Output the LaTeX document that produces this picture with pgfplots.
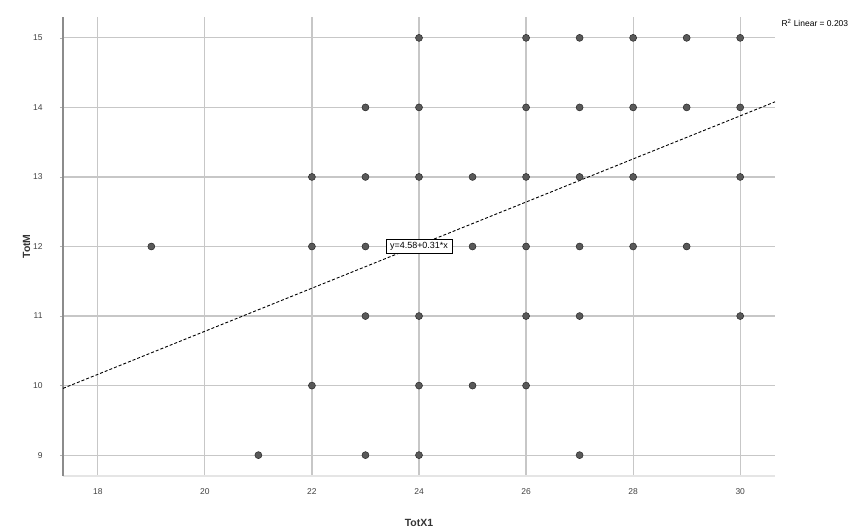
\documentclass[border=0pt]{standalone}
\usepackage{fontspec}
\setmainfont{Liberation Sans}
\setsansfont{Liberation Sans}
\usepackage{pgfplots}
\pgfplotsset{compat=1.18}
\begin{document}
\begin{tikzpicture}
\begin{axis}[
  scale only axis,
  width=712bp, height=459bp,
  xmin=17.35, xmax=30.65, ymin=8.7, ymax=15.3,
  xtick={18,20,...,30}, ytick={9,...,15},
  /pgf/number format/assume math mode=true,
  ticklabel style={font=\fontsize{8.5}{10}\selectfont, text=black!75},
  yticklabel style={xshift=-14bp},
  xticklabel style={yshift=-6bp},
  xlabel={\textbf{TotX1}}, ylabel={\textbf{TotM}},
  label style={font=\fontsize{10.5}{12}\selectfont, text=black!80},
  xlabel style={yshift=-18bp},
  ylabel style={yshift=-4bp},
  grid=major,
  major grid style={draw=black!22, line width=1.2bp},
  axis x line*=bottom, axis y line*=left,
  x axis line style={draw=black!10, line width=1.5bp, -},
  y axis line style={draw=black!45, line width=1.2bp, -},
  xtick style={draw=none},
  ytick style={draw=black!30},
  tick align=outside, major tick length=3bp,
  clip=false,
]
\addplot[only marks, mark=*, mark size=3.5bp,
  mark options={fill=black!65, draw=black!85, line width=0.5bp}]
coordinates {
 (24,15) (26,15) (27,15) (28,15) (29,15) (30,15)
 (23,14) (24,14) (26,14) (27,14) (28,14) (29,14) (30,14)
 (22,13) (23,13) (24,13) (25,13) (26,13) (27,13) (28,13) (30,13)
 (19,12) (22,12) (23,12) (24,12) (25,12) (26,12) (27,12) (28,12) (29,12)
 (23,11) (24,11) (26,11) (27,11) (30,11)
 (22,10) (24,10) (25,10) (26,10)
 (21,9) (23,9) (24,9) (27,9)
};
\addplot[black, line width=0.9bp, dash pattern=on 3bp off 2bp]
coordinates { (17.35,9.96) (30.65,14.08) };
\node[anchor=west, font=\fontsize{8.5}{10}\selectfont, overlay] at ([xshift=3bp,yshift=-6bp]rel axis cs:1,1) {R\textsuperscript{2} Linear = 0.203};
\coordinate (eq) at (axis cs:24,12);
\coordinate (ll) at (rel axis cs:0,0);
\coordinate (ur) at (rel axis cs:1,1);
\end{axis}
\node[draw=black, line width=0.6bp, fill=white, inner xsep=4bp, inner ysep=3bp,
  font=\fontsize{9}{10}\selectfont] at (eq) {y=4.58+0.31*x};
\pgfresetboundingbox
\path ([xshift=-63bp,yshift=-56bp]ll) rectangle ([xshift=92bp,yshift=17bp]ur);
\end{tikzpicture}
\end{document}
